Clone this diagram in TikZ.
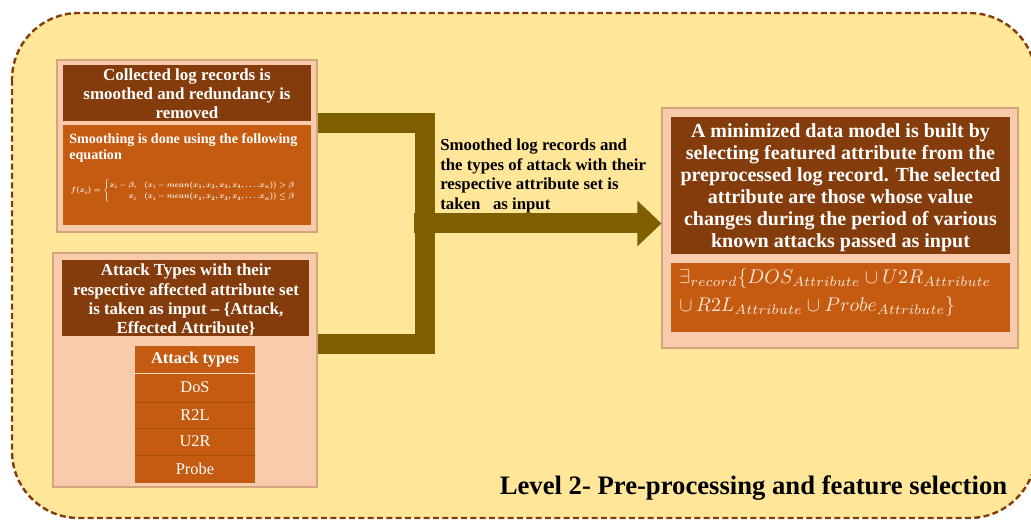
\documentclass[tikz,border=0pt]{standalone}
\usepackage{fontspec}
\usepackage{amsmath}
\setmainfont{Liberation Serif}
\usetikzlibrary{fit,arrows.meta}
\definecolor{bg}{HTML}{FFE699}
\definecolor{pinkc}{HTML}{F8CBAD}
\definecolor{darkb}{HTML}{843C0C}
\definecolor{orng}{HTML}{C55A11}
\definecolor{olivec}{HTML}{7F6000}
\definecolor{tanc}{HTML}{D2A57C}
\definecolor{lightt}{HTML}{FBE5D6}
\tikzset{
  frame/.style={draw=darkb, fill=bg, line width=1.8pt, dash pattern=on 4.5pt off 2.5pt, rounded corners=50pt},
  pinkbox/.style={draw=tanc, fill=pinkc, line width=0.8pt, inner sep=0pt},
  darkbox/.style={fill=darkb, inner sep=0pt},
  orbox/.style={fill=orng, inner sep=0pt},
  cell/.style={fill=orng, inner sep=0pt},
  hdrtext/.style={text=white, font=\bfseries\fontsize{12.7}{14.4}\selectfont, align=center, inner sep=0pt},
  bigtext/.style={text=white, font=\bfseries\fontsize{15}{16.5}\selectfont, align=center, inner sep=0pt},
  celltext/.style={text=white, font=\fontsize{12.3}{13}\selectfont, inner sep=0pt},
  conn/.style={draw=olivec, line width=15pt, line join=miter},
}
\begin{document}
\begin{tikzpicture}[x=0.75pt,y=-0.75pt]
\useasboundingbox (0,0) rectangle (1031,520);
\begin{scope}
\clip (0,0) rectangle (1031,520);
\path[frame] (12,13) rectangle (1036,518);
\end{scope}

% top-left box
\node[pinkbox, fit={(57,60) (317,232)}] (b1) {};
\node[darkbox, fit={(63,65) (311,121)}] (b1h) {};
\node[orbox, fit={(63,125) (311,225)}] (b1o) {};
\node[hdrtext] (b1t) at (187,94) {Collected log records is\\smoothed and redundancy is\\removed};
\node[text=white, font=\bfseries\fontsize{10.6}{11.4}\selectfont, align=left, anchor=west, inner sep=0pt] (b1s) at (69,148) {Smoothing is done using the following\\equation};
\node[text=white, inner sep=0pt] (b1e) at (183,191) {\resizebox{168pt}{!}{\boldmath$f(x_i)=\begin{cases} x_i-\beta, & (x_i-mean(x_1,x_2,x_3,x_4,\ldots.x_n))>\beta\\ \phantom{x_i-{}}x_i & (x_i-mean(x_1,x_2,x_3,x_4,\ldots.x_n))\le\beta\end{cases}$}};

% bottom-left box
\node[pinkbox, fit={(53,253) (317,487)}] (b2) {};
\node[darkbox, fit={(62,260) (309,336)}] (b2h) {};
\node[hdrtext] (b2t) at (186,300) {Attack Types with their\\respective affected attribute set\\is taken as input -- \{Attack,\\Effected Attribute\}};
\node[cell, fit={(135,346) (255,373)}] (th) {};
\node[cell, fit={(135,373) (255,402)}] (r1) {};
\node[cell, fit={(135,402) (255,428)}] (r2) {};
\node[cell, fit={(135,428) (255,455)}] (r3) {};
\node[cell, fit={(135,455) (255,483)}] (r4) {};
\draw[draw=pinkc!70!white, line width=0.7pt] (th.south west) -- (th.south east);
\draw[draw=orng!85!black, line width=0.5pt] (r1.south west) -- (r1.south east);
\draw[draw=orng!85!black, line width=0.5pt] (r2.south west) -- (r2.south east);
\draw[draw=orng!85!black, line width=0.5pt] (r3.south west) -- (r3.south east);
\node[celltext, font=\bfseries\fontsize{12.3}{13}\selectfont] at (th.center) {Attack types};
\node[celltext] at (r1.center) {DoS};
\node[celltext] at (r2.center) {R2L};
\node[celltext] at (r3.center) {U2R};
\node[celltext] at (r4.center) {Probe};

% right box
\node[pinkbox, fit={(662,108) (1018,348)}] (rb) {};
\node[darkbox, fit={(671,117) (1010,254)}] (rbh) {};
\node[orbox, fit={(671,263) (1010,332)}] (rbo) {};
\node[bigtext] (rbt) at (840.5,188) {A minimized data model is built by\\selecting featured attribute from the\\preprocessed log record. The selected\\attribute are those whose value\\changes during the period of various\\known attacks passed as input};
\node[text=lightt, anchor=west, inner sep=0pt] (rbe) at (679,293) {\resizebox{234pt}{!}{\begin{tabular}{@{}l@{}}$\exists_{record}\{DOS_{Attribute}\cup U2R_{Attribute}$\\[2pt]$\cup\, R2L_{Attribute}\cup Probe_{Attribute}\}$\end{tabular}}};

% connectors
\coordinate (j1) at (424.5,123);
\coordinate (j2) at (424.5,344);
\coordinate (jm) at (414,223.5);
\draw[conn] (b1.east |- j1) -- (j1) -- (j2) -- (b2.east |- j2);
\draw[conn, -{Triangle[length=18pt,width=33pt]}] (jm) -- (rb.west |- jm);

\node[font=\bfseries\fontsize{12.6}{14.6}\selectfont, align=left, anchor=west, inner sep=0pt] (lbl) at (440,176) {Smoothed log records and\\the types of attack with their\\respective attribute set is\\taken\ \ \ as input};

\node[font=\bfseries\fontsize{20}{22}\selectfont, inner sep=0pt] (title) at (753.5,488) {Level 2- Pre-processing and feature selection};
\end{tikzpicture}
\end{document}
